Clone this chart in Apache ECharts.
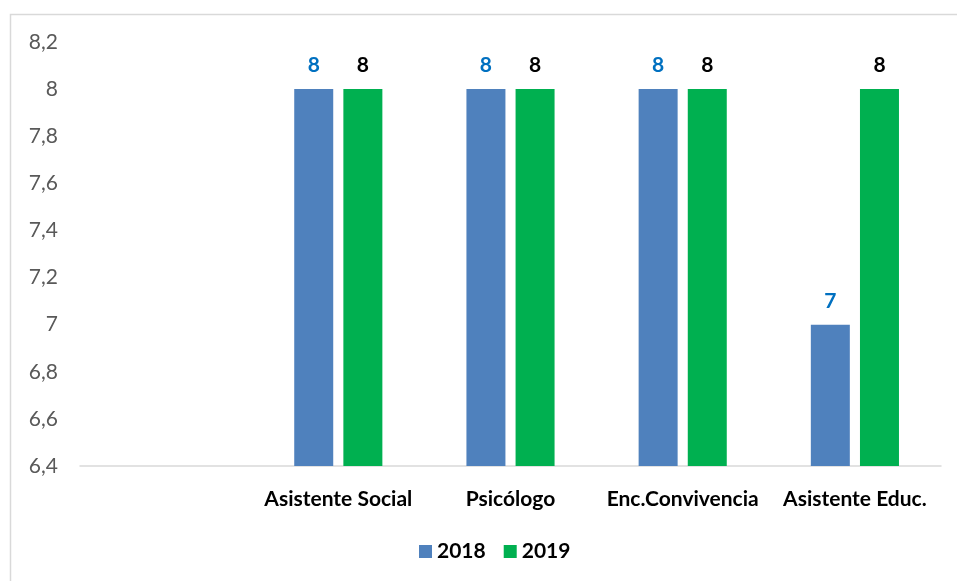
<!DOCTYPE html>
<html><head><meta charset="utf-8">
<script src="https://cdn.jsdelivr.net/npm/echarts@6/dist/echarts.min.js"></script>
<style>html,body{margin:0;padding:0;background:#fff}#c{width:957px;height:581px}</style>
</head><body><div id="c"></div>
<script>
const categories = ['', 'Asistente Social', 'Psicólogo', 'Enc.Convivencia', 'Asistente Educ.'];
const values2018 = [null, 8, 8, 8, 7];
const values2019 = [null, 8, 8, 8, 8];
const yTicks = { min: 6.4, max: 8.2, step: 0.2 };

const fmt = v => String(Math.round(v * 10) / 10).replace('.', ',');
const font = 'Lato, "Open Sans", sans-serif';
const chart = echarts.init(document.getElementById('c'));
chart.setOption({
  animation: false,
  textStyle: { fontFamily: font },
  graphic: [{ type: 'rect', shape: { x: 10.5, y: 14.5, width: 960, height: 600 }, style: { fill: 'none', stroke: '#d9d9d9', lineWidth: 1.5 }, silent: true }],
  grid: { left: 80, right: 16, top: 42, bottom: 115 },
  legend: {
    top: 536, left: 414, itemWidth: 13, itemHeight: 13, itemGap: 18,
    icon: 'rect',
    textStyle: { fontFamily: font, fontSize: 21, fontWeight: 'bold', color: '#000' },
    data: ['2018', '2019']
  },
  xAxis: {
    type: 'category', data: categories,
    axisLine: { lineStyle: { color: '#d9d9d9', width: 1.5 } },
    axisTick: { show: false },
    axisLabel: { fontFamily: font, fontSize: 21, fontWeight: 'bold', color: '#000', margin: 23, interval: 0 }
  },
  yAxis: {
    type: 'value', min: yTicks.min, max: yTicks.max, interval: yTicks.step,
    axisLine: { show: false }, axisTick: { show: false }, splitLine: { show: false },
    axisLabel: { fontFamily: font, fontSize: 21, color: '#595959', margin: 22, formatter: fmt }
  },
  series: [
    { name: '2018', type: 'bar', data: values2018, barWidth: 39, barGap: '26%',
      itemStyle: { color: '#4f81bd' },
      label: { show: true, position: 'top', distance: 13, fontFamily: font, fontSize: 21, fontWeight: 'bold', color: '#0070c0', formatter: p => fmt(p.value) } },
    { name: '2019', type: 'bar', data: values2019, barWidth: 39,
      itemStyle: { color: '#00b050' },
      label: { show: true, position: 'top', distance: 13, fontFamily: font, fontSize: 21, fontWeight: 'bold', color: '#000', formatter: p => fmt(p.value) } }
  ]
});
</script></body></html>
